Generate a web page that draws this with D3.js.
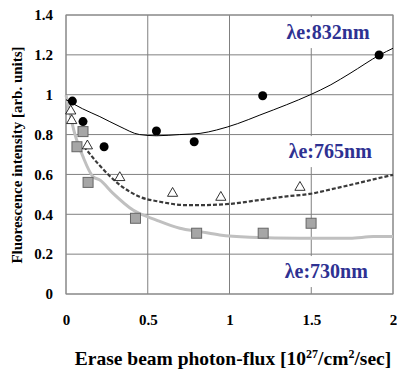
<!DOCTYPE html>
<html>
<head>
<meta charset="utf-8">
<script src="https://cdn.jsdelivr.net/npm/d3@7"></script>
<style>
  body { margin: 0; background: #fff; }
</style>
</head>
<body>
<div id="chart"></div>
<script>
// tick values
var xTicks = [0, 0.5, 1, 1.5, 2];
var yTicks = [0, 0.2, 0.4, 0.6, 0.8, 1, 1.2, 1.4];

// measured points, one array per erase wavelength
var pts832 = [[0.039, 0.968], [0.104, 0.865], [0.233, 0.739], [0.553, 0.818], [0.784, 0.764], [1.203, 0.995], [1.915, 1.199]];
var pts765 = [[0.029, 0.918], [0.035, 0.870], [0.131, 0.743], [0.329, 0.584], [0.652, 0.505], [0.947, 0.485], [1.431, 0.535]];
var pts730 = [[0.104, 0.815], [0.067, 0.739], [0.135, 0.560], [0.425, 0.380], [0.799, 0.305], [1.206, 0.305], [1.499, 0.355]];

// fitted curves
var fit832 = [[0, 0.975], [0.1, 0.93], [0.207, 0.89], [0.33, 0.84], [0.45, 0.80], [0.553, 0.794], [0.696, 0.80], [0.82, 0.806],
              [0.921, 0.823], [1.05, 0.855], [1.186, 0.898], [1.35, 0.95], [1.492, 0.999], [1.62, 1.05], [1.737, 1.107], [1.92, 1.2], [2, 1.233]];
var fit765 = [[0.11, 0.74], [0.2, 0.65], [0.33, 0.547], [0.45, 0.488], [0.574, 0.463], [0.737, 0.446], [0.819, 0.446], [1.0, 0.452],
              [1.186, 0.472], [1.35, 0.49], [1.49, 0.502], [1.62, 0.525], [1.737, 0.547], [1.88, 0.575], [2, 0.598]];
var fit730 = [[0, 0.998], [0.053, 0.806], [0.104, 0.689], [0.165, 0.589], [0.207, 0.572], [0.288, 0.505], [0.41, 0.421], [0.553, 0.371],
              [0.696, 0.33], [0.819, 0.313], [0.94, 0.296], [1.125, 0.285], [1.43, 0.28], [1.737, 0.28], [1.88, 0.288], [2, 0.288]];

var labels = ["\u03bbe:832nm", "\u03bbe:765nm", "\u03bbe:730nm"];
var labelX = [1.348, 1.362, 1.338];
var labelY = [1.279, 0.682, 0.08];

var FONT = "'Liberation Serif'";

var margin = {top: 15, right: 4, bottom: 75, left: 66},
    width = 327,
    height = 279;

var svg = d3.select("#chart").append("svg")
    .attr("width", 397)
    .attr("height", 369);

var g = svg.append("g")
    .attr("transform", "translate(" + margin.left + "," + margin.top + ")");

var x = d3.scaleLinear().domain([0, 2]).range([0, width]);
var y = d3.scaleLinear().domain([0, 1.4]).range([height, 0]);

// grid
g.selectAll(".hgrid").data(yTicks).enter().append("line")
    .attr("x1", 0).attr("x2", x(2))
    .attr("y1", d => y(d)).attr("y2", d => y(d))
    .attr("stroke", "#808080").attr("stroke-width", 1);
g.selectAll(".vgrid").data(xTicks).enter().append("line")
    .attr("y1", 0).attr("y2", y(0))
    .attr("x1", d => x(d)).attr("x2", d => x(d))
    .attr("stroke", "#808080").attr("stroke-width", 1);

// tick labels
var yAxis = d3.axisLeft(y).tickValues(yTicks).tickSize(0).tickPadding(13).tickFormat(d3.format("~g"));
var xAxis = d3.axisBottom(x).tickValues(xTicks).tickSize(0).tickPadding(20).tickFormat(d3.format("~g"));

g.append("g").call(yAxis)
  .call(a => a.select(".domain").remove())
  .selectAll("text").style("font-size", "15px").style("font-family", FONT).style("font-weight", "bold").attr("fill", "#000");

g.append("g").attr("transform", "translate(0," + y(0) + ")").call(xAxis)
  .call(a => a.select(".domain").remove())
  .selectAll("text").style("font-size", "15px").style("font-family", FONT).style("font-weight", "bold").attr("fill", "#000");

// curve labels with white backing
var lab = g.selectAll(".lab").data(labels).enter().append("g");
lab.append("text")
    .attr("x", (d, i) => x(labelX[i])).attr("y", (d, i) => y(labelY[i]))
    .style("font-size", "20px").style("font-family", FONT).style("font-weight", "bold")
    .attr("fill", "#2E3192")
    .text(d => d)
    .each(function() {
      var b = this.getBBox();
      d3.select(this.parentNode).insert("rect", "text")
        .attr("x", b.x - 3).attr("y", b.y - 4)
        .attr("width", b.width + 12).attr("height", b.height + 9)
        .attr("fill", "#fff");
    });

// plot border
g.append("rect")
    .attr("x", 0).attr("y", 0).attr("width", x(2)).attr("height", y(0))
    .attr("fill", "none").attr("stroke", "#8c8c8c");

// curves
var line = d3.line().x(d => x(d[0])).y(d => y(d[1])).curve(d3.curveMonotoneX);

g.append("path").datum(fit730)
    .attr("fill", "none").attr("stroke", "#c0c0c0").attr("stroke-width", 3)
    .attr("d", line);
g.append("path").datum(fit765)
    .attr("fill", "none").attr("stroke", "#3a3a3a").attr("stroke-width", 2.2)
    .attr("stroke-dasharray", "4,2")
    .attr("d", line);
g.append("path").datum(fit832)
    .attr("fill", "none").attr("stroke", "#000").attr("stroke-width", 1)
    .attr("d", line);

// markers
g.selectAll(".sq").data(pts730).enter().append("rect")
    .attr("x", d => x(d[0]) - 5).attr("y", d => y(d[1]) - 5)
    .attr("width", 10).attr("height", 10)
    .attr("fill", "#a6a6a6").attr("stroke", "#666").attr("stroke-width", 1);

var tri = d3.symbol().type(d3.symbolTriangle).size(45);
g.selectAll(".tri").data(pts765).enter().append("path")
    .attr("transform", d => "translate(" + x(d[0]) + "," + y(d[1]) + ")")
    .attr("d", tri)
    .attr("fill", "#fff").attr("stroke", "#000").attr("stroke-width", 0.8);

g.selectAll(".dot").data(pts832).enter().append("circle")
    .attr("cx", d => x(d[0])).attr("cy", d => y(d[1]))
    .attr("r", 4.5).attr("fill", "#000");

// axis titles
var xt = svg.append("text")
    .attr("x", 233).attr("y", 365)
    .attr("text-anchor", "middle")
    .style("font-size", "19.5px").style("font-family", FONT).style("font-weight", "bold");
xt.append("tspan").text("Erase beam photon-flux [10");
xt.append("tspan").attr("dy", -7).style("font-size", "12px").text("27");
xt.append("tspan").attr("dy", 7).text("/cm");
xt.append("tspan").attr("dy", -7).style("font-size", "12px").text("2");
xt.append("tspan").attr("dy", 7).text("/sec]");

svg.append("text")
    .attr("transform", "translate(22,155) rotate(-90)")
    .attr("text-anchor", "middle")
    .style("font-size", "15px").style("font-family", FONT).style("font-weight", "bold")
    .text("Fluorescence intensity [arb. units]");
</script>
</body>
</html>
